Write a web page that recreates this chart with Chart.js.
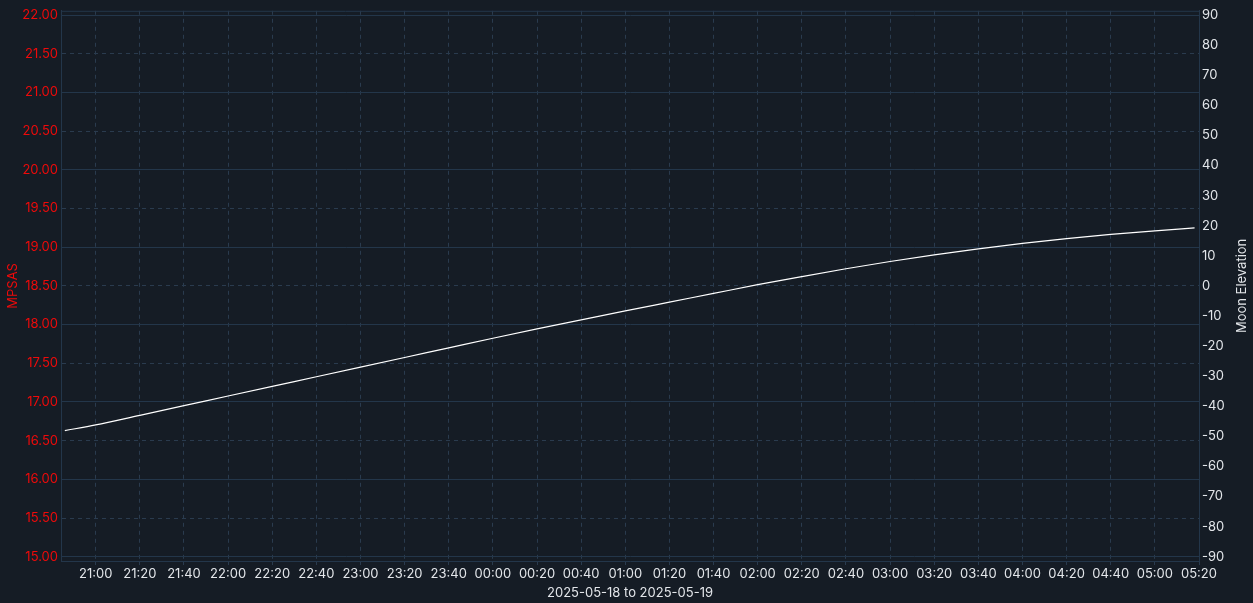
<!DOCTYPE html>
<html>
<head>
<meta charset="utf-8">
<script src="https://cdn.jsdelivr.net/npm/chart.js@4.4.1/dist/chart.umd.min.js"></script>
<style>
  html, body { margin: 0; padding: 0; background: #151c25; }
  #wrap { width: 1253px; height: 603px; position: relative; }
</style>
</head>
<body>
<div id="wrap"><canvas id="c"></canvas></div>
<script>
// ---- data ----
const dateRange = "2025-05-18 to 2025-05-19";
const times = ["20:46","21:00","21:20","21:40","22:00","22:20","22:40","23:00","23:20","23:40",
               "00:00","00:20","00:40","01:00","01:20","01:40","02:00","02:20","02:40","03:00",
               "03:20","03:40","04:00","04:20","04:40","05:00","05:18"];
const moonElevation = [-48.1,-46.2,-43.0,-39.8,-36.6,-33.4,-30.2,-27.0,-23.8,-20.6,
                       -17.4,-14.3,-11.3,-8.3,-5.4,-2.5,0.4,3.1,5.7,8.1,
                       10.3,12.3,14.1,15.7,17.1,18.3,19.3];
const mpsasValues = [];
const mpsasTicks = [15,15.5,16,16.5,17,17.5,18,18.5,19,19.5,20,20.5,21,21.5,22];
const moonTicks = [-90,-80,-70,-60,-50,-40,-30,-20,-10,0,10,20,30,40,50,60,70,80,90];
const xStart = "20:44", xEnd = "05:20", xStepMin = 20;

// ---- helpers ----
function toMin(t) {
  const [h, m] = t.split(":").map(Number);
  let v = h * 60 + m;
  if (h < 12) v += 1440;
  return v;
}
function fmt(v) {
  const m = ((Math.round(v) % 1440) + 1440) % 1440;
  const h = Math.floor(m / 60), mm = m % 60;
  return String(h).padStart(2, "0") + ":" + String(mm).padStart(2, "0");
}
const moonData = times.map((t, i) => ({ x: toMin(t), y: moonElevation[i] }));
const xMin = toMin(xStart) + 0.27, xMax = toMin(xEnd);

const GRID = "#23364a";
const DASH = "#2a3b4e";
const RED = "#ee0a0a";
const TXT = "#e3e6ea";
const FONT = "Inter";
const FS = 13;

const frame = {
  id: "frame",
  afterDraw(chart) {
    const { ctx, chartArea: a } = chart;
    ctx.save();
    ctx.strokeStyle = GRID;
    ctx.lineWidth = 1;
    ctx.beginPath();
    ctx.moveTo(a.left, a.top + 0.5);
    ctx.lineTo(a.right, a.top + 0.5);
    ctx.stroke();
    // right axis title, reading bottom-to-top
    ctx.translate(1242, (a.top + a.bottom) / 2);
    ctx.rotate(-Math.PI / 2);
    ctx.fillStyle = TXT;
    ctx.font = FS + "px " + FONT;
    ctx.textAlign = "center";
    ctx.textBaseline = "middle";
    ctx.fillText("Moon Elevation", 0, 0);
    ctx.restore();
  }
};

const isHalf = (c) => c.tick && Math.abs(c.tick.value % 1) > 0.01;

new Chart(document.getElementById("c"), {
  type: "line",
  data: {
    datasets: [
      { label: "MPSAS", data: mpsasValues, yAxisID: "y", borderColor: RED, pointRadius: 0 },
      { label: "Moon Elevation", data: moonData, yAxisID: "y1", borderColor: "#ffffff",
        borderWidth: 1.2, pointRadius: 0, cubicInterpolationMode: "monotone" }
    ]
  },
  options: {
    responsive: true,
    maintainAspectRatio: false,
    animation: false,
    layout: { padding: { top: 8, left: 0, right: 0, bottom: 0 } },
    plugins: { legend: { display: false }, tooltip: { enabled: false } },
    scales: {
      x: {
        type: "linear",
        min: xMin, max: xMax,
        afterBuildTicks(s) {
          const t = [];
          for (let v = Math.ceil(xMin / xStepMin) * xStepMin; v <= xMax; v += xStepMin) t.push({ value: v });
          s.ticks = t;
        },
        afterFit(s) { s.height = 42; },
        ticks: { color: TXT, font: { family: FONT, size: FS }, padding: 1, maxRotation: 0, autoSkip: false,
                 callback: (v) => fmt(v) },
        grid: { color: DASH, tickColor: DASH, tickLength: 4, drawTicks: true },
        border: { color: GRID, dash: (c) => (c.tick ? [4, 4] : []) },
        title: { display: true, text: dateRange, color: TXT, font: { family: FONT, size: FS }, padding: { top: 0, bottom: 2 } }
      },
      y: {
        position: "left",
        min: 14.945, max: 22.055,
        afterBuildTicks(s) { s.ticks = mpsasTicks.map(v => ({ value: v })); },
        afterFit(s) { s.width = 61; },
        ticks: { color: RED, font: { family: FONT, size: FS }, padding: 3, callback: (v) => Number(v).toFixed(2) },
        grid: { color: (c) => (isHalf(c) ? DASH : GRID), drawTicks: false },
        border: { color: GRID, dash: (c) => (isHalf(c) ? [4, 4] : []) },
        title: { display: true, text: "MPSAS", color: RED, font: { family: FONT, size: FS }, padding: { top: 5, bottom: 0 } }
      },
      y1: {
        position: "right",
        min: -91.42, max: 91.42,
        afterBuildTicks(s) { s.ticks = moonTicks.map(v => ({ value: v })); },
        afterFit(s) { s.width = 54; },
        ticks: { color: TXT, font: { family: FONT, size: FS }, padding: 3 },
        grid: { display: false, drawTicks: false },
        border: { color: GRID }
      }
    }
  },
  plugins: [frame]
});
</script>
</body>
</html>
